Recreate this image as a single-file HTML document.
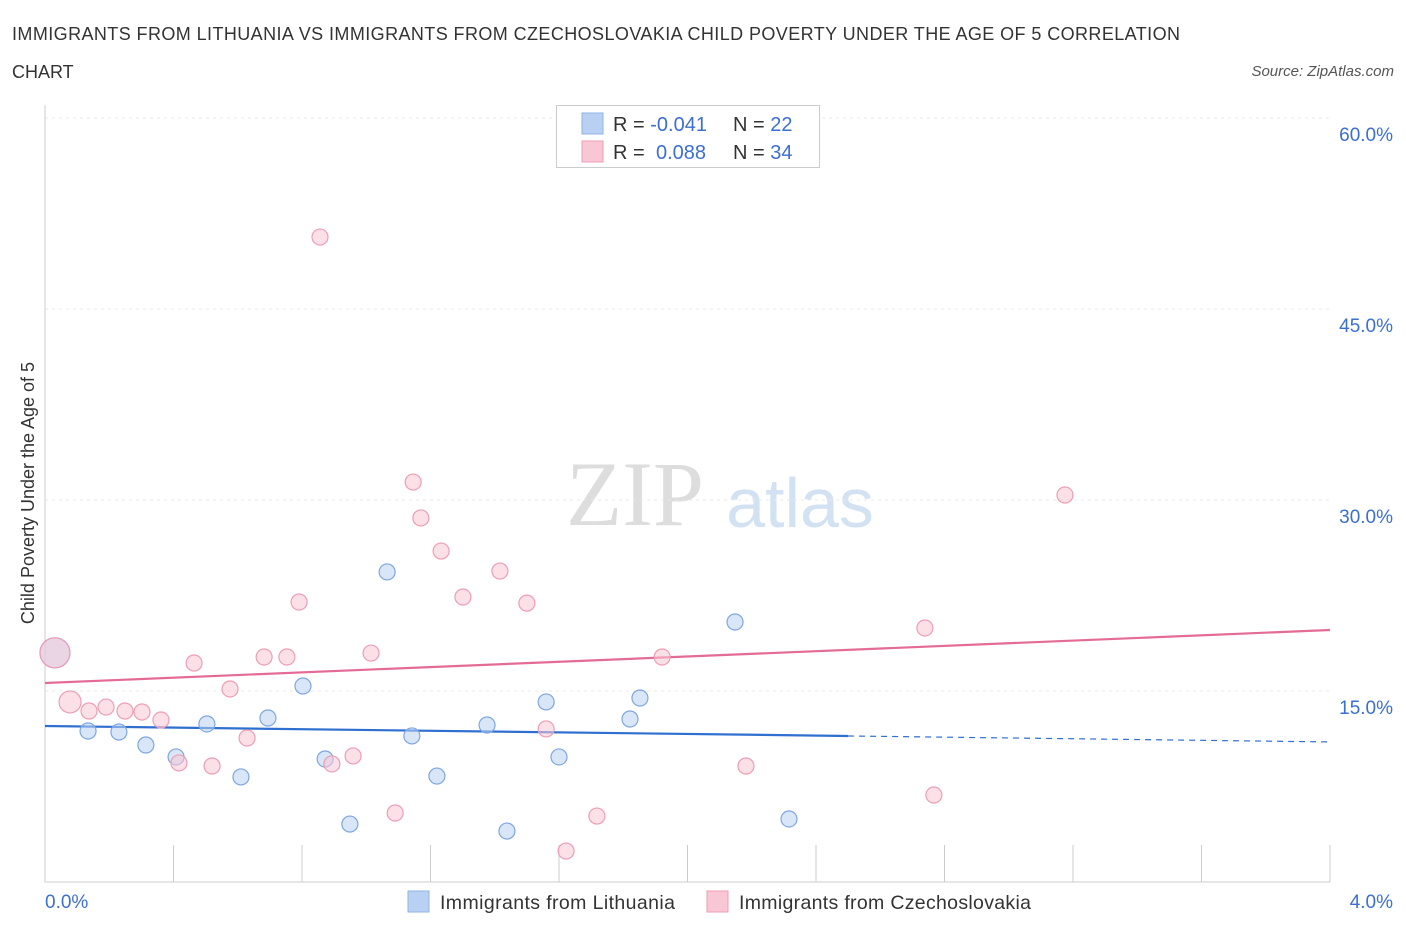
<!DOCTYPE html>
<html><head><meta charset="utf-8">
<style>
body{margin:0;background:#fff;font-family:"Liberation Sans",sans-serif;}
</style></head>
<body>
<svg width="1406" height="930" xmlns="http://www.w3.org/2000/svg" style="font-family:'Liberation Sans',sans-serif">
<text x="12" y="40" font-size="18" fill="#333" textLength="1168" lengthAdjust="spacing">IMMIGRANTS FROM LITHUANIA VS IMMIGRANTS FROM CZECHOSLOVAKIA CHILD POVERTY UNDER THE AGE OF 5 CORRELATION</text>
<text x="12" y="78" font-size="18" fill="#333">CHART</text>
<text x="1394" y="76" font-size="15" fill="#555" font-style="italic" text-anchor="end">Source: ZipAtlas.com</text>
<text x="635" y="525" font-size="92" fill="#ddd" text-anchor="middle" font-family="Liberation Serif">ZIP</text>
<text x="800" y="527" font-size="70" fill="#d3e2f3" text-anchor="middle">atlas</text>
<text transform="translate(34,493) rotate(-90)" font-size="18" fill="#333" text-anchor="middle">Child Poverty Under the Age of 5</text>
<g id="grid"></g><g id="axes"></g><g id="trend"></g><g id="pts"></g>
<g>
<rect x="556.5" y="105.5" width="263" height="62" fill="#fff" stroke="#ccc"/>
<rect x="582" y="113" width="21" height="21" fill="#b8d1f3" stroke="#8fb3e6"/>
<rect x="582" y="141" width="21" height="21" fill="#f9c6d5" stroke="#ee9db5"/>
<text x="613" y="131" font-size="20" fill="#333">R = <tspan fill="#3b6fd0">-0.041</tspan></text>
<text x="733" y="131" font-size="20" fill="#333">N = <tspan fill="#3b6fd0">22</tspan></text>
<text x="613" y="159" font-size="20" fill="#333">R = <tspan fill="#3b6fd0" x="656">0.088</tspan></text>
<text x="733" y="159" font-size="20" fill="#333">N = <tspan fill="#3b6fd0">34</tspan></text>
</g>
<g>
<rect x="408" y="891" width="21" height="21" fill="#b8d1f3" stroke="#8fb3e6"/>
<text x="440" y="909" font-size="19.5" fill="#333" textLength="235">Immigrants from Lithuania</text>
<rect x="707" y="891" width="21" height="21" fill="#f9c6d5" stroke="#ee9db5"/>
<text x="739" y="909" font-size="19.5" fill="#333" textLength="292">Immigrants from Czechoslovakia</text>
</g>
</svg>
<script>
const yTicks=[15,30,45,60];
const yTickLabels=["15.0%","30.0%","45.0%","60.0%"];
const xTickLabels=["0.0%","4.0%"];
const blueX=[0.031,0.134,0.230,0.314,0.408,0.504,0.610,0.694,0.803,0.872,0.949,1.065,1.142,1.220,1.376,1.438,1.560,1.600,1.821,1.852,2.148,2.316];
const blueY=[18.0,11.86,11.78,10.76,9.82,12.41,8.25,12.88,15.39,9.66,4.55,24.35,11.47,8.32,12.33,4.0,14.14,9.82,12.8,14.45,20.42,4.95];
const pinkX=[0.031,0.078,0.137,0.190,0.249,0.302,0.361,0.417,0.464,0.520,0.576,0.629,0.682,0.753,0.791,0.856,0.893,0.959,1.015,1.090,1.146,1.170,1.233,1.301,1.416,1.500,1.560,1.622,1.718,1.921,2.182,2.739,2.767,3.175];
const pinkY=[18.0,14.14,13.43,13.74,13.43,13.35,12.72,9.35,17.2,9.11,15.16,11.31,17.67,17.67,21.99,50.65,9.27,9.9,17.98,5.42,31.41,28.59,25.99,22.38,24.42,21.9,12.02,2.43,5.18,17.67,9.11,19.95,6.83,30.39];
const blueTrend=[12.25,11.0];
const pinkTrend=[15.63,19.79];
const X0=45,X1=1330,Y0=882,PX=191/15;
const sx=v=>X0+(v/4)*(X1-X0);
const sy=v=>Y0-v*PX;
const NS="http://www.w3.org/2000/svg";
function mk(p,t,a){const e=document.createElementNS(NS,t);for(const k in a)e.setAttribute(k,a[k]);p.appendChild(e);return e;}
const grid=document.getElementById('grid');
yTicks.forEach((t,i)=>{
 const l=mk(grid,'line',{x1:X0,x2:X1,y1:sy(t),y2:sy(t),stroke:'#e8e8e8','stroke-dasharray':'3,4'});
 
 
 const tx=mk(grid,'text',{x:1393,y:sy(t)+23,'font-size':19,fill:'#3b6fd0','text-anchor':'end'});
 tx.textContent=yTickLabels[i];
 
 
});
const ax=document.getElementById('axes');
const ya=mk(ax,'line',{x1:X0,x2:X0,y1:105,y2:Y0,stroke:'#ccc'});


const xa=mk(ax,'line',{x1:X0,x2:X1,y1:Y0,y2:Y0,stroke:'#ccc'});


for(let i=1;i<=10;i++){const v=i*0.4;const t=mk(ax,'line',{x1:sx(v),x2:sx(v),y1:Y0,y2:Y0-37,stroke:'#ccc'});
 
 }
const xl0=mk(ax,'text',{x:45,y:908,'font-size':19,fill:'#3b6fd0'});xl0.textContent=xTickLabels[0];


const xl1=mk(ax,'text',{x:1393,y:908,'font-size':19,fill:'#3b6fd0','text-anchor':'end'});xl1.textContent=xTickLabels[1];


const tr=document.getElementById('trend');
const bm=blueTrend[0]+(blueTrend[1]-blueTrend[0])*(2.5/4);
const b1=mk(tr,'line',{x1:sx(0),y1:sy(blueTrend[0]),x2:sx(2.5),y2:sy(bm),stroke:'#2f6fd0','stroke-width':2.2});


const b2=mk(tr,'line',{x1:sx(2.5),y1:sy(bm),x2:sx(4),y2:sy(blueTrend[1]),stroke:'#2f6fd0','stroke-width':1.2,'stroke-dasharray':'6,5'});


const p1=mk(tr,'line',{x1:sx(0),y1:sy(pinkTrend[0]),x2:sx(4),y2:sy(pinkTrend[1]),stroke:'#e36b96','stroke-width':2.2});


const pts=document.getElementById('pts');
function dots(xs,ys,fill,stroke,name){xs.forEach((x,i)=>{
 const r=i===0?15:(name==='czechoslovakia'&&i===1?11:8);
 const c=mk(pts,'circle',{cx:sx(x),cy:sy(ys[i]),r:r,fill:fill,'fill-opacity':0.55,stroke:stroke,'stroke-width':1.2});
 
 
});}
dots(blueX,blueY,'#b8d1f3','#7fa6e0','lithuania');
dots(pinkX,pinkY,'#f9c6d5','#ee9db5','czechoslovakia');
</script>
</body></html>
